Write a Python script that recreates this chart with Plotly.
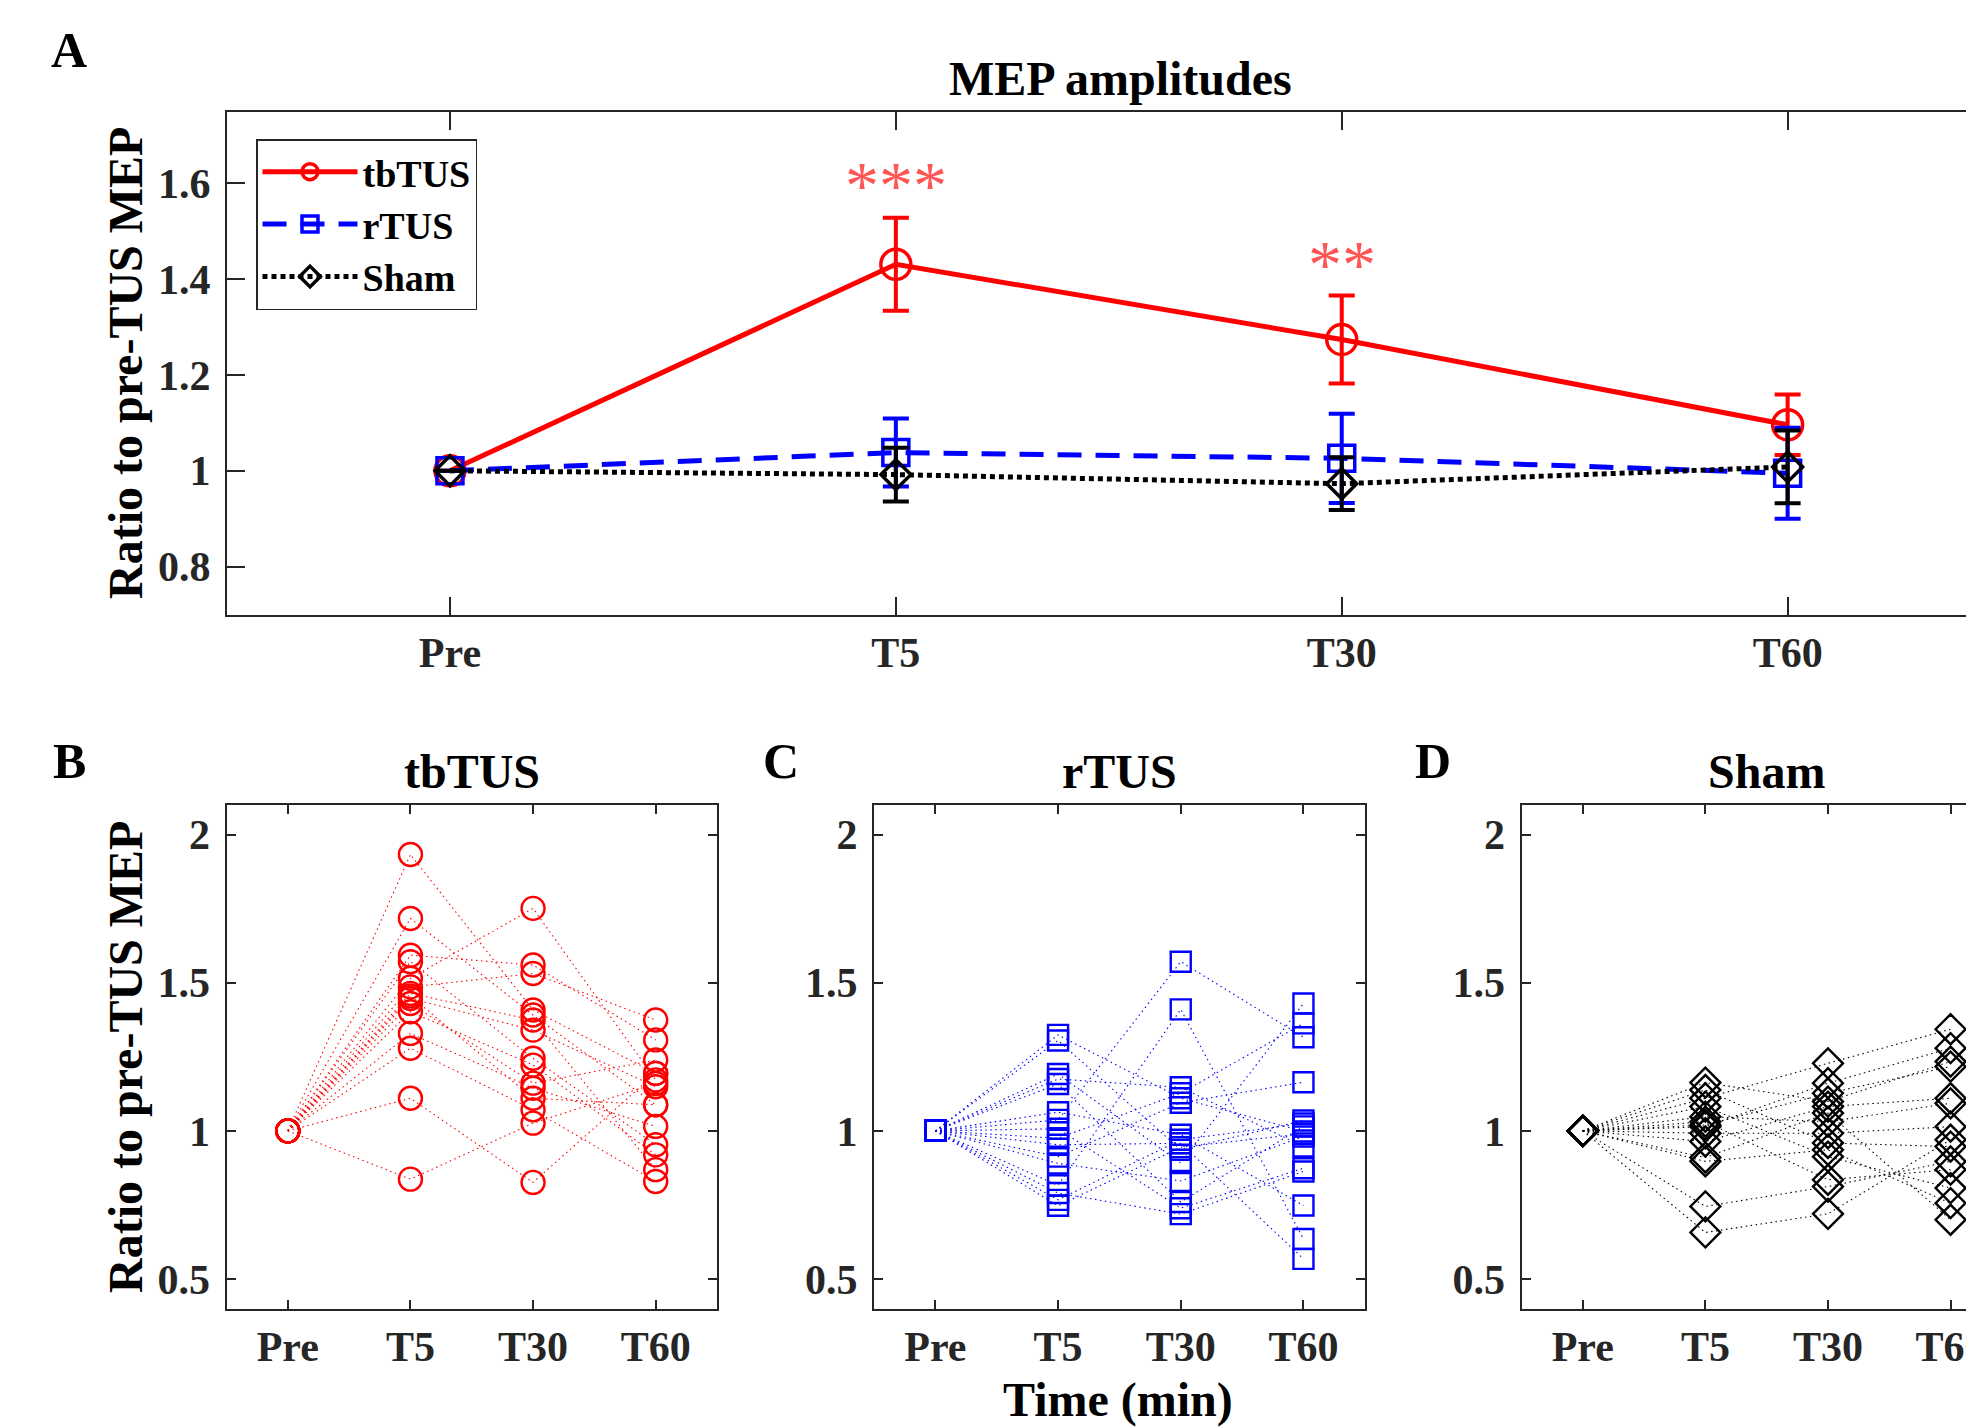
import plotly.graph_objects as go

W, H = 1966, 1427
FONT = "Liberation Serif, Times New Roman, serif"
AXC = "#262626"


def fx(p):
    return p / W


def fy(p):
    return 1 - p / H


timepoints = ["Pre", "T5", "T30", "T60"]

# ---- Panel A: group means and SEM ----
tbtus_mean = [1.0, 1.431, 1.274, 1.096]
tbtus_sem = [0.0, 0.097, 0.092, 0.063]
rtus_mean = [1.0, 1.038, 1.026, 0.995]
rtus_sem = [0.0, 0.071, 0.093, 0.095]
sham_mean = [1.0, 0.992, 0.973, 1.008]
sham_sem = [0.0, 0.056, 0.055, 0.076]

sig_points = ["T5", "T30"]
sig_labels = ["***", "**"]
sig_y = [1.596, 1.432]

# ---- Panel B: tbTUS individual subjects ----
tbtus_pre = [1.0, 1.0, 1.0, 1.0, 1.0, 1.0, 1.0, 1.0, 1.0, 1.0, 1.0, 1.0, 1.0, 1.0, 1.0]
tbtus_t5 = [1.933, 1.717, 1.593, 1.571, 1.515, 1.486, 1.464, 1.447, 1.430, 1.402, 1.329, 1.279, 1.110, 0.837, 1.455]
tbtus_t30 = [1.408, 1.391, 1.560, 1.245, 1.751, 1.531, 1.374, 1.340, 1.161, 1.222, 1.144, 1.071, 0.826, 1.026, 1.110]
tbtus_t60 = [1.194, 1.088, 1.307, 0.953, 1.172, 1.374, 0.869, 1.149, 1.239, 0.919, 1.015, 0.829, 1.194, 1.160, 1.088]

# ---- Panel C: rTUS individual subjects ----
rtus_pre = [1.0, 1.0, 1.0, 1.0, 1.0, 1.0, 1.0, 1.0, 1.0, 1.0, 1.0, 1.0, 1.0, 1.0, 1.0, 1.0]
rtus_t5 = [1.324, 1.305, 1.192, 1.175, 1.158, 1.063, 1.037, 1.007, 0.975, 0.953, 0.913, 0.890, 0.816, 0.790, 0.767, 0.747]
rtus_t30 = [1.110, 0.936, 0.891, 1.147, 0.760, 0.987, 1.571, 0.739, 1.127, 0.958, 1.095, 0.831, 1.410, 0.719, 0.970, 0.945]
rtus_t60 = [0.998, 1.035, 1.430, 0.947, 1.015, 0.748, 1.316, 0.874, 1.363, 0.568, 1.164, 0.981, 0.635, 0.863, 1.025, 0.990]

# ---- Panel D: Sham individual subjects ----
sham_pre = [1.0, 1.0, 1.0, 1.0, 1.0, 1.0, 1.0, 1.0, 1.0, 1.0, 1.0, 1.0, 1.0, 1.0]
sham_t5 = [1.163, 1.138, 1.110, 1.082, 1.048, 1.031, 1.014, 0.992, 0.964, 0.897, 0.745, 0.657, 1.020, 0.910]
sham_t30 = [1.099, 0.959, 1.228, 0.913, 1.031, 0.835, 1.161, 0.992, 1.082, 0.936, 0.812, 0.720, 1.127, 1.060]
sham_t60 = [1.234, 0.947, 1.343, 0.807, 1.093, 0.869, 1.279, 1.014, 1.110, 0.756, 0.897, 0.970, 1.217, 0.700]

RED, BLUE, BLACK = "#FF0000", "#0000FF", "#000000"
STAR = "#FF5555"

fig = go.Figure()

# Panel A traces
groups = [
    ("tbTUS", tbtus_mean, tbtus_sem, RED, "circle-open", "solid", 30),
    ("rTUS", rtus_mean, rtus_sem, BLUE, "square-open", "24px,14px", 26),
    ("Sham", sham_mean, sham_sem, BLACK, "diamond-open", "5px,4px", 23),
]
for name, m, s, col, sym, dash, ms in groups:
    fig.add_trace(go.Scatter(
        x=timepoints, y=m, name=name, mode="lines+markers",
        line=dict(color=col, width=5, dash=dash),
        marker=dict(symbol=sym, size=ms, color=col, line=dict(width=3.5, color=col)),
        error_y=dict(type="data", array=s, visible=True, color=col, thickness=4, width=13),
        xaxis="x", yaxis="y",
    ))

# Panels B-D individual subjects
panels = [
    ("x2", "y2", [tbtus_pre, tbtus_t5, tbtus_t30, tbtus_t60], RED, "circle-open", 23),
    ("x3", "y3", [rtus_pre, rtus_t5, rtus_t30, rtus_t60], BLUE, "square-open", 20),
    ("x4", "y4", [sham_pre, sham_t5, sham_t30, sham_t60], BLACK, "diamond-open", 23),
]
for xa, ya, cols, col, sym, ms in panels:
    for i in range(len(cols[0])):
        yy = [cols[0][i], cols[1][i], cols[2][i], cols[3][i]]
        fig.add_trace(go.Scatter(
            x=timepoints, y=yy, mode="lines+markers", showlegend=False,
            line=dict(color=col, width=1.1, dash="1.5px,3.5px"),
            marker=dict(symbol=sym, size=ms, color=col, line=dict(width=2.4, color=col)),
            xaxis=xa, yaxis=ya,
        ))


def xax(domain, rng, ticklen, anchor):
    return dict(
        type="category", categoryarray=timepoints, categoryorder="array",
        domain=domain, range=rng, anchor=anchor, automargin=False,
        showline=True, linecolor=AXC, linewidth=2, mirror="ticks",
        ticks="inside", ticklen=ticklen, tickwidth=1.5, tickcolor=AXC,
        showgrid=False, zeroline=False,
        tickfont=dict(family=FONT, size=42, color=AXC, weight="bold"),
        ticklabelstandoff=0,
    )


def yax(domain, rng, tickvals, ticklen, anchor, mirror):
    return dict(
        domain=domain, range=rng, anchor=anchor, automargin=False,
        tickvals=tickvals, ticktext=[("%g" % v) for v in tickvals],
        showline=True, linecolor=AXC, linewidth=2, mirror=mirror,
        ticks="inside", ticklen=ticklen, tickwidth=1.5, tickcolor=AXC,
        showgrid=False, zeroline=False,
        tickfont=dict(family=FONT, size=42, color=AXC, weight="bold"),
        ticklabelstandoff=6,
    )


yA = [fy(614.5), fy(111.5)]
yB = [fy(1308.6), fy(805.0)]

fig.update_layout(
    width=W, height=H, autosize=False,
    margin=dict(l=0, r=0, t=0, b=0, autoexpand=False),
    paper_bgcolor="white", plot_bgcolor="white",
    font=dict(family=FONT, color="black"),
    xaxis=xax([fx(227.0), 1.0], [-0.5, 3.400], 18, "y"),
    yaxis=yax(yA, [0.7, 1.75], [0.8, 1.0, 1.2, 1.4, 1.6], 18, "x", False),
    xaxis2=xax([fx(226.5), fx(717.0)], [-0.5, 3.5], 9, "y2"),
    yaxis2=yax(yB, [0.4, 2.1], [0.5, 1.0, 1.5, 2.0], 9, "x2", "ticks"),
    xaxis3=xax([fx(874.0), fx(1364.8)], [-0.5, 3.5], 9, "y3"),
    yaxis3=yax(yB, [0.4, 2.1], [0.5, 1.0, 1.5, 2.0], 9, "x3", "ticks"),
    xaxis4=xax([fx(1521.5), 1.0], [-0.5, 3.126], 9, "y4"),
    yaxis4=yax(yB, [0.4, 2.1], [0.5, 1.0, 1.5, 2.0], 9, "x4", False),
    legend=dict(
        x=fx(256), y=fy(139), xanchor="left", yanchor="top",
        bgcolor="white", bordercolor=AXC, borderwidth=1.5,
        font=dict(family=FONT, size=38, color="black", weight="bold"),
        itemwidth=95, tracegroupgap=0,
    ),
)

ann = []
# significance stars
for xp, lab, yv in zip(sig_points, sig_labels, sig_y):
    ann.append(dict(x=xp, y=yv, xref="x", yref="y", text=lab, showarrow=False,
                    font=dict(family=FONT, size=68, color=STAR), yanchor="middle"))


def txt(x, y, t, size, angle=0, weight="bold"):
    ann.append(dict(x=fx(x), y=fy(y), xref="paper", yref="paper", text=t,
                    showarrow=False, textangle=angle, xanchor="center", yanchor="middle",
                    font=dict(family=FONT, size=size, color="black", weight=weight)))


txt(1120, 79, "MEP amplitudes", 48)
txt(471.8, 771, "tbTUS", 48)
txt(1119.4, 771, "rTUS", 48)
txt(1766.5, 771, "Sham", 48)
txt(1118, 1400, "Time (min)", 48)
txt(125, 363, "Ratio to pre-TUS MEP", 48, -90)
txt(125, 1057, "Ratio to pre-TUS MEP", 48, -90)
txt(69, 50, "A", 50)
txt(69, 761, "B", 50)
txt(781, 761, "C", 50)
txt(1433, 761, "D", 50)
fig.update_layout(annotations=ann)

fig.write_html(
    "out.html",
    config={"responsive": False, "displayModeBar": False},
    post_script="document.body.style.margin='0';document.body.style.overflow='hidden';",
)
